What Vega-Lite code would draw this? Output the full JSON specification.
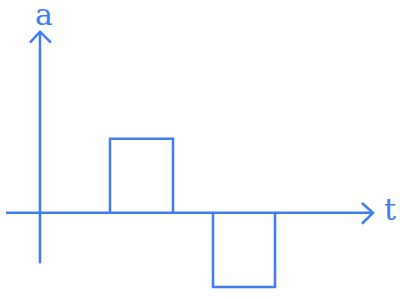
{
  "$schema": "https://vega.github.io/schema/vega-lite/v6.json",
  "autosize": {"type": "fit", "contains": "padding"},
  "width": 400,
  "height": 299,
  "padding": 0,
  "background": "white",
  "config": {"view": {"stroke": null}},
  "datasets": {
    "paths": [
      {"seg": "xaxis", "i": 0, "t": -34, "a": 0},
      {"seg": "xaxis", "i": 1, "t": 333, "a": 0},
      {"seg": "yaxis", "i": 0, "t": 0, "a": -51},
      {"seg": "yaxis", "i": 1, "t": 0, "a": 183},
      {"seg": "yarrow", "i": 0, "t": -10, "a": 172},
      {"seg": "yarrow", "i": 1, "t": 0, "a": 183},
      {"seg": "yarrow", "i": 2, "t": 11, "a": 172},
      {"seg": "xarrow", "i": 0, "t": 322, "a": 10},
      {"seg": "xarrow", "i": 1, "t": 333, "a": 0},
      {"seg": "xarrow", "i": 2, "t": 322, "a": -11},
      {"seg": "pos", "i": 0, "t": 70, "a": 0},
      {"seg": "pos", "i": 1, "t": 70, "a": 75},
      {"seg": "pos", "i": 2, "t": 133, "a": 75},
      {"seg": "pos", "i": 3, "t": 133, "a": 0},
      {"seg": "neg", "i": 0, "t": 173, "a": 0},
      {"seg": "neg", "i": 1, "t": 173, "a": -75},
      {"seg": "neg", "i": 2, "t": 235, "a": -75},
      {"seg": "neg", "i": 3, "t": 235, "a": 0}
    ],
    "labels": [
      {"label": "a", "t": 4, "a": 190},
      {"label": "t", "t": 350, "a": -7}
    ]
  },
  "layer": [
    {
      "data": {"name": "paths"},
      "mark": {"type": "line", "color": "#3d7cf2", "strokeWidth": 2.5, "strokeJoin": "miter", "strokeCap": "butt"},
      "encoding": {
        "x": {"field": "t", "type": "quantitative", "scale": {"domain": [-40, 360]}, "axis": null},
        "y": {"field": "a", "type": "quantitative", "scale": {"domain": [-87, 212]}, "axis": null},
        "detail": {"field": "seg"},
        "order": {"field": "i"}
      }
    },
    {
      "data": {"name": "labels"},
      "mark": {"type": "text", "color": "#3d7cf2", "font": "DejaVu Serif", "fontSize": 30, "align": "center", "baseline": "alphabetic"},
      "encoding": {
        "x": {"field": "t", "type": "quantitative", "scale": {"domain": [-40, 360]}, "axis": null},
        "y": {"field": "a", "type": "quantitative", "scale": {"domain": [-87, 212]}, "axis": null},
        "text": {"field": "label"}
      }
    }
  ]
}
